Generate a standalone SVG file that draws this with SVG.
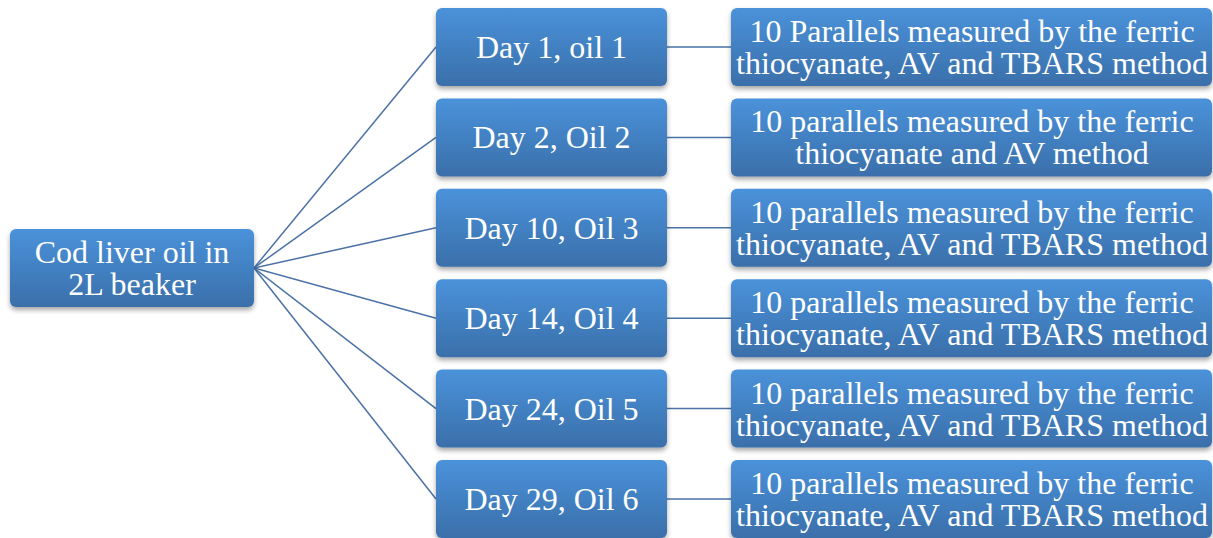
<svg xmlns="http://www.w3.org/2000/svg" width="1213" height="538" viewBox="0 0 1213 538">
<defs>
<linearGradient id="g" x1="0" y1="0" x2="0" y2="1">
<stop offset="0" stop-color="#4a92da"/>
<stop offset="1" stop-color="#3a6faa"/>
</linearGradient>
<filter id="sh" x="-10%" y="-10%" width="120%" height="130%">
<feDropShadow dx="0" dy="3" stdDeviation="2.5" flood-color="#000" flood-opacity="0.35"/>
</filter>
</defs>
<style>
.box{fill:url(#g);filter:url(#sh);}
.t{font-family:'Liberation Serif',serif;font-size:32px;fill:#ffffff;text-anchor:middle;}
.c{stroke:#4a72a6;stroke-width:1.5;fill:none;}
</style>
<rect width="1213" height="538" fill="#fff"/>
<g id="connectors">
<line class="c" x1="254" y1="268" x2="436" y2="47"/>
<line class="c" x1="254" y1="268" x2="436" y2="137.4"/>
<line class="c" x1="254" y1="268" x2="436" y2="227.8"/>
<line class="c" x1="254" y1="268" x2="436" y2="318.2"/>
<line class="c" x1="254" y1="268" x2="436" y2="408.6"/>
<line class="c" x1="254" y1="268" x2="436" y2="499"/>
<line class="c" x1="667" y1="47" x2="731" y2="47"/>
<line class="c" x1="667" y1="137.4" x2="731" y2="137.4"/>
<line class="c" x1="667" y1="227.8" x2="731" y2="227.8"/>
<line class="c" x1="667" y1="318.2" x2="731" y2="318.2"/>
<line class="c" x1="667" y1="408.6" x2="731" y2="408.6"/>
<line class="c" x1="667" y1="499" x2="731" y2="499"/>
</g>
<g id="root">
<rect class="box" x="10" y="229" width="244" height="78" rx="6"/>
<text class="t" x="132" y="263">Cod liver oil in</text>
<text class="t" x="132" y="295">2L beaker</text>
</g>
<g id="day1">
<rect class="box" x="436" y="8" width="231" height="78" rx="6"/>
<text class="t" x="551.5" y="58">Day 1, oil 1</text>
</g>
<g id="day2">
<rect class="box" x="436" y="98.4" width="231" height="78" rx="6"/>
<text class="t" x="551.5" y="148.4">Day 2, Oil 2</text>
</g>
<g id="day10">
<rect class="box" x="436" y="188.8" width="231" height="78" rx="6"/>
<text class="t" x="551.5" y="238.8">Day 10, Oil 3</text>
</g>
<g id="day14">
<rect class="box" x="436" y="279.2" width="231" height="78" rx="6"/>
<text class="t" x="551.5" y="329.2">Day 14, Oil 4</text>
</g>
<g id="day24">
<rect class="box" x="436" y="369.6" width="231" height="78" rx="6"/>
<text class="t" x="551.5" y="419.6">Day 24, Oil 5</text>
</g>
<g id="day29">
<rect class="box" x="436" y="460" width="231" height="78" rx="6"/>
<text class="t" x="551.5" y="510">Day 29, Oil 6</text>
</g>
<g id="res1">
<rect class="box" x="731" y="8" width="481" height="78" rx="6"/>
<text class="t" x="972" y="42">10 Parallels measured by the ferric</text>
<text class="t" x="972" y="74">thiocyanate, AV and TBARS method</text>
</g>
<g id="res2">
<rect class="box" x="731" y="98.4" width="481" height="78" rx="6"/>
<text class="t" x="972" y="132.4">10 parallels measured by the ferric</text>
<text class="t" x="972" y="164.4">thiocyanate and AV method</text>
</g>
<g id="res3">
<rect class="box" x="731" y="188.8" width="481" height="78" rx="6"/>
<text class="t" x="972" y="222.8">10 parallels measured by the ferric</text>
<text class="t" x="972" y="254.8">thiocyanate, AV and TBARS method</text>
</g>
<g id="res4">
<rect class="box" x="731" y="279.2" width="481" height="78" rx="6"/>
<text class="t" x="972" y="313.2">10 parallels measured by the ferric</text>
<text class="t" x="972" y="345.2">thiocyanate, AV and TBARS method</text>
</g>
<g id="res5">
<rect class="box" x="731" y="369.6" width="481" height="78" rx="6"/>
<text class="t" x="972" y="403.6">10 parallels measured by the ferric</text>
<text class="t" x="972" y="435.6">thiocyanate, AV and TBARS method</text>
</g>
<g id="res6">
<rect class="box" x="731" y="460" width="481" height="78" rx="6"/>
<text class="t" x="972" y="494">10 parallels measured by the ferric</text>
<text class="t" x="972" y="526">thiocyanate, AV and TBARS method</text>
</g>
</svg>
